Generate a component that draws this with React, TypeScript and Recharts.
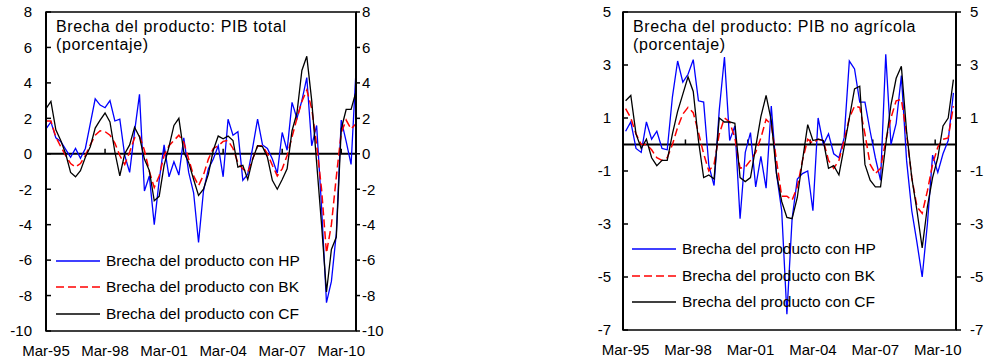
import { LineChart, Line, XAxis, YAxis, ReferenceLine, ReferenceArea } from "recharts";

const FONT = '"Liberation Sans", Arial, sans-serif';

// quarterly, Mar-95 .. Dec-10 (64 quarters)
const tickLabels = ["Mar-95", "Mar-98", "Mar-01", "Mar-04", "Mar-07", "Mar-10"];
const tickIndex = [0, 12, 24, 36, 48, 60];

// Brecha del producto: PIB total
const hpTotal = [
  1.4, 1.8, 0.9, 0.7, 0.25, -0.2, 0.3, -0.25, 0.3, 1.7, 3.1, 2.75, 2.6, 3.0, 1.85, 1.95,
  -0.1, -1.05, 1.25, 3.35, -2.1, -1.25, -4.0, -1.5, 0.5, -1.3, -0.45, -1.2, 0.9, -1.05, -2.2, -5.0,
  -2.1, -0.85, -0.3, 0.45, -1.3, 1.95, 1.05, 1.25, -1.5, -1.15, 0.35, 1.95, 0.5, 0.3, -0.3, -1.1,
  1.2, 0.2, 2.9, 2.0, 3.0, 4.3, 0.45, 1.6, -3.0, -8.4, -7.2, -4.5, 1.9, 0.7, -0.6, 4.7,
];
const bkTotal = [
  1.85, 1.85, 0.95, 0.4, -0.1, -0.55, -0.75, -0.55, -0.1, 0.5, 1.05, 1.3, 1.25, 1.05, 0.6, -0.1,
  -0.6, 0.1, 0.9, 1.0, 0.2, -1.0, -1.9, -1.25, -0.1, 0.45, 0.75, 1.05, 0.65, -0.3, -1.25, -1.8,
  -1.2, -0.3, 0.3, 0.45, 0.7, 0.75, 0.3, -0.5, -0.85, -1.05, -0.3, 0.45, 0.45, 0.0, -0.65, -1.25,
  -0.85, -0.1, 0.95, 2.0, 2.95, 3.6, 2.55, 0.5, -2.0, -5.6, -4.0, -1.3, 1.2, 1.9, 1.4, 1.7,
];
const cfTotal = [
  2.55, 2.95, 1.35, 0.75, 0.0, -1.05, -1.3, -0.95, -0.2, 0.4, 1.45, 1.9, 2.3, 1.8, 0.1, -1.25,
  0.0, 0.5, 1.5, 0.95, -0.3, -0.95, -2.65, -2.4, -0.65, 0.4, 1.6, 2.0, 0.1, -0.5, -1.45, -2.35,
  -2.0, -1.15, 0.2, 1.0, 0.85, 1.0, 0.75, -0.75, -0.65, -1.45, -0.3, 0.45, 0.4, -0.2, -1.5, -2.0,
  -1.45, -0.85, 1.3, 2.3, 4.7, 5.5, 3.0, -0.5, -4.0, -7.8, -5.4, -4.7, 1.4, 2.5, 2.5, 3.5,
];

// Brecha del producto: PIB no agrícola
const hpNoAgr = [
  0.5, 0.85, -0.15, -0.3, 0.85, 0.2, 0.5, -0.15, -0.2, 1.8, 3.15, 2.35, 2.65, 3.2, 1.65, 1.6,
  -0.8, -1.55, 1.3, 3.3, 0.15, 0.7, -2.8, -0.3, 0.45, -1.6, -0.45, -1.65, 1.45, -1.1, -2.5, -6.4,
  -2.8, -1.3, -1.1, -1.0, -2.5, 1.0, 0.0, 0.4, -0.35, -0.5, 0.25, 3.15, 2.85, 1.6, 1.6, 0.5,
  -0.5, -1.35, 3.4, 0.0, 0.8, 2.6, -0.6, -2.5, -3.7, -5.0, -3.0, -0.4, -1.05, -0.35, 0.15, 1.95,
];
const bkNoAgr = [
  1.35, 1.0, 0.4, 0.0, 0.0, -0.2, -0.5, -0.6, -0.5, 0.0, 0.65, 1.15, 1.4, 1.2, 0.45, -0.35,
  -1.0, -0.75, 0.4, 1.0, 0.85, 0.25, -0.9, -0.85, -0.6, -0.3, 0.25, 0.95, 0.75, -0.6, -1.95, -1.95,
  -2.1, -1.6, -0.6, 0.2, 0.05, 0.2, 0.15, -0.6, -0.9, -0.6, 0.15, 1.0, 1.45, 1.4, 0.4, -0.75,
  -1.1, -0.9, 0.15, 1.0, 1.65, 1.7, 0.4, -1.25, -2.35, -2.6, -1.75, -0.75, -0.1, 0.2, 0.25, 1.45,
];
const cfNoAgr = [
  1.65, 1.85, 0.4, -0.15, 0.2, -0.5, -0.8, -0.6, -0.6, 0.4, 1.25, 1.9, 2.55, 2.0, 0.15, -1.25,
  -1.15, -1.3, 1.0, 0.85, 0.85, 0.8, -1.25, -1.4, -1.25, -0.1, 1.05, 1.85, 0.9, -1.1, -2.15, -2.75,
  -2.8, -2.0, -0.6, 0.75, 0.15, 0.2, 0.15, -0.9, -0.8, -1.15, -0.1, 1.0, 2.1, 2.2, -0.75, -1.35,
  -1.6, -1.6, 0.0, 1.5, 2.5, 2.95, 0.5, -1.25, -2.5, -3.9, -2.35, -1.25, -0.5, 0.7, 1.0, 2.45,
];

const ticksTotal = [-10, -8, -6, -4, -2, 0, 2, 4, 6, 8];
const ticksNoAgr = [-7, -5, -3, -1, 1, 3, 5];

const legendItems = [
  { label: "Brecha del producto con HP", color: "#0000ff", dash: undefined },
  { label: "Brecha del producto con BK", color: "#ff0000", dash: "8 4" },
  { label: "Brecha del producto con CF", color: "#000000", dash: undefined },
];

const totalData = hpTotal.map((v, i) => ({ i, hp: v, bk: bkTotal[i], cf: cfTotal[i] }));
const noAgrData = hpNoAgr.map((v, i) => ({ i, hp: v, bk: bkNoAgr[i], cf: cfNoAgr[i] }));

const tickFmt = (v: number) => tickLabels[tickIndex.indexOf(v)] ?? "";
const tickStyle = { fill: "#000", fontSize: 15 };
const titleStyle = {
  position: "absolute" as const, top: 18, fontSize: 16, lineHeight: "18px", letterSpacing: "0.6px", whiteSpace: "nowrap" as const,
};

// both y axes share one domain; the CF line sits on the right one so that axis gets drawn
function Series() {
  return [
    <Line key="hp" yAxisId="l" type="linear" dataKey="hp" stroke="#0000ff" strokeWidth={1.3} dot={false} isAnimationActive={false} />,
    <Line key="bk" yAxisId="l" type="linear" dataKey="bk" stroke="#ff0000" strokeWidth={1.5} strokeDasharray="8 4" dot={false} isAnimationActive={false} />,
    <Line key="cf" yAxisId="r" type="linear" dataKey="cf" stroke="#000000" strokeWidth={1.3} dot={false} isAnimationActive={false} />,
  ];
}

function Legend({ left, top, gap }: { left: number; top: number; gap: number }) {
  return (
    <>
      {legendItems.map((it, k) => (
        <div
          key={it.label}
          style={{ position: "absolute", left, top: top + k * gap - 9, height: 18, display: "flex", alignItems: "center", fontSize: 15.5, whiteSpace: "nowrap" }}
        >
          <svg width={44} height={4} style={{ display: "block" }}>
            <line x1={0} y1={2} x2={44} y2={2} stroke={it.color} strokeWidth={1.6} strokeDasharray={it.dash} />
          </svg>
          <span style={{ marginLeft: 6 }}>{it.label}</span>
        </div>
      ))}
    </>
  );
}

export default function App() {
  return (
    <div style={{ position: "absolute", left: 0, top: 0, width: 985, height: 360, background: "#fff", fontFamily: FONT, color: "#000", overflow: "hidden" }}>
      <div style={{ position: "absolute", left: 0, top: 0 }}>
        <LineChart width={400} height={360} data={totalData} margin={{ top: 12, right: 4, bottom: 9, left: 6 }}>
          <XAxis dataKey="i" type="number" domain={[0, 63]} ticks={tickIndex} interval={0} tickFormatter={tickFmt}
            axisLine={false} tickLine={false} tickSize={0} tickMargin={14} height={20} tick={tickStyle} />
          <YAxis yAxisId="l" orientation="left" width={40} domain={[-10, 8]} ticks={ticksTotal} interval={0}
            axisLine={{ stroke: "#000", strokeWidth: 2 }} tickLine={{ stroke: "#000", strokeWidth: 1.5 }} tickSize={-5} tickMargin={19} tick={tickStyle} />
          <YAxis yAxisId="r" orientation="right" width={40} domain={[-10, 8]} ticks={ticksTotal} interval={0}
            axisLine={{ stroke: "#000", strokeWidth: 2 }} tickLine={{ stroke: "#000", strokeWidth: 1.5 }} tickSize={4} tickMargin={2} tick={tickStyle} />
          <ReferenceArea yAxisId="l" x1={0} x2={63} y1={-10} y2={8} fill="none" stroke="#000" strokeWidth={1.5} />
          <ReferenceLine yAxisId="l" y={0} stroke="#000" strokeWidth={2} />
          {tickIndex.slice(1).map((t) => (
            <ReferenceLine key={t} yAxisId="l" segment={[{ x: t, y: 0 }, { x: t, y: 0.28 }]} stroke="#000" strokeWidth={1.5} />
          ))}
          {Series()}
        </LineChart>
      </div>
      <div style={{ position: "absolute", left: 580, top: 0 }}>
        <LineChart width={405} height={360} data={noAgrData} margin={{ top: 12, right: 4, bottom: 10, left: 8 }}>
          <XAxis dataKey="i" type="number" domain={[-0.5, 63.5]} ticks={tickIndex} interval={0} tickFormatter={tickFmt}
            axisLine={false} tickLine={false} tickSize={0} tickMargin={14} height={20} tick={tickStyle} />
          <YAxis yAxisId="l" orientation="left" width={35} domain={[-7, 5]} ticks={ticksNoAgr} interval={0}
            axisLine={{ stroke: "#000", strokeWidth: 2 }} tickLine={{ stroke: "#000", strokeWidth: 1.5 }} tickSize={-5} tickMargin={17} tick={tickStyle} />
          <YAxis yAxisId="r" orientation="right" width={25} domain={[-7, 5]} ticks={ticksNoAgr} interval={0}
            axisLine={{ stroke: "#000", strokeWidth: 2 }} tickLine={{ stroke: "#000", strokeWidth: 1.5 }} tickSize={5} tickMargin={9} tick={tickStyle} />
          <ReferenceArea yAxisId="l" x1={-0.5} x2={63.5} y1={-7} y2={5} fill="none" stroke="#000" strokeWidth={1.5} />
          <ReferenceLine yAxisId="l" y={0} stroke="#000" strokeWidth={2} />
          {tickIndex.slice(1).map((t) => (
            <ReferenceLine key={t} yAxisId="l" segment={[{ x: t - 0.5, y: 0 }, { x: t - 0.5, y: 0.19 }]} stroke="#000" strokeWidth={1.5} />
          ))}
          {Series()}
        </LineChart>
      </div>

      <div style={{ ...titleStyle, left: 56 }}>
        Brecha del producto: PIB total<br />(porcentaje)
      </div>
      <div style={{ ...titleStyle, left: 633 }}>
        Brecha del producto: PIB no agrícola<br />(porcentaje)
      </div>
      <Legend left={56} top={261} gap={26.3} />
      <Legend left={632} top={249} gap={26.6} />
    </div>
  );
}
